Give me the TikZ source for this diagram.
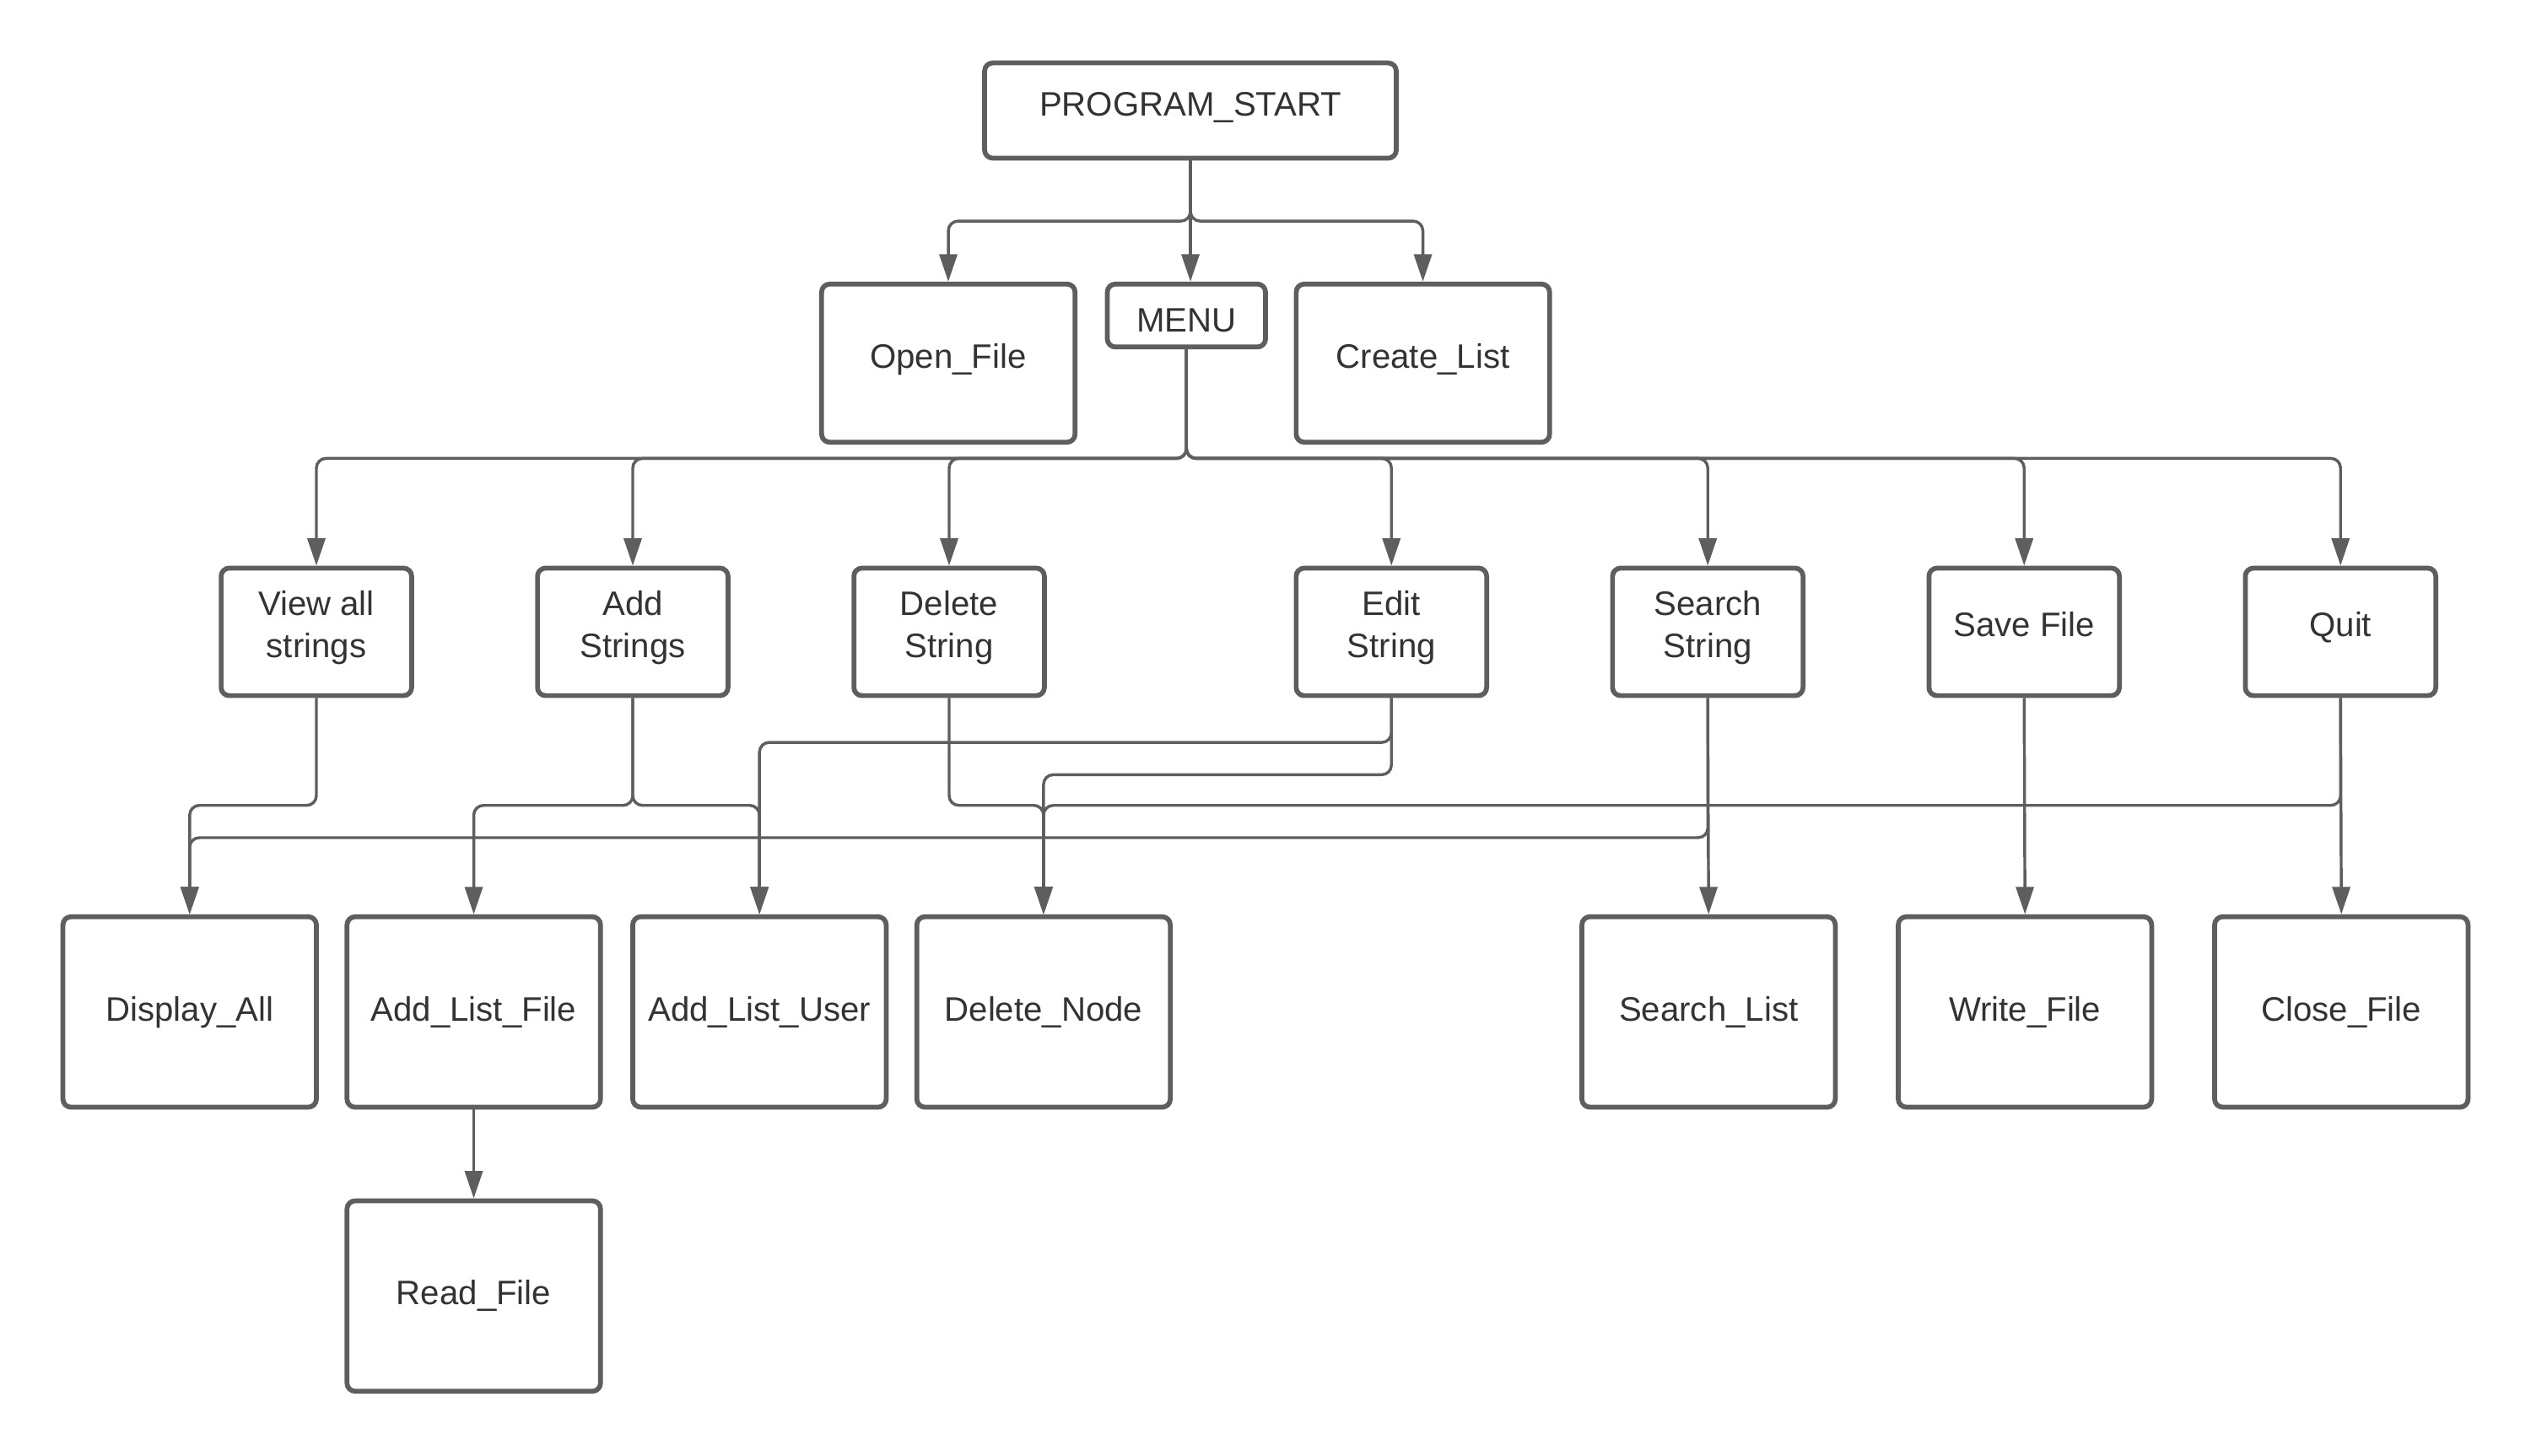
\documentclass[tikz,border=0pt]{standalone}
\usepackage{fontspec}
\setmainfont{Liberation Sans}
\usepackage{tikz}
\usetikzlibrary{arrows.meta, calc, positioning}
\definecolor{lcline}{HTML}{5E5E5E}
\definecolor{lctext}{HTML}{333333}
\tikzset{
  flowbox/.style   = {rectangle, draw=lcline, line width=3pt, rounded corners=5pt,
                      fill=white, text=lctext, align=center, inner sep=2pt,
                      font=\fontsize{21}{26}\selectfont},
  smallbox/.style  = {flowbox, minimum width=118pt, minimum height=79pt,
                      text depth=9.5pt},
  bigbox/.style    = {flowbox, minimum width=157pt, minimum height=118pt},
  flowlink/.style  = {draw=lcline, line width=1.8pt, rounded corners=6pt,
                      -{Triangle[length=17pt, width=11pt]}},
}

\begin{document}
\begin{tikzpicture}[x=1pt, y=-1pt]
  \useasboundingbox (0,0) rectangle (1568,902);
  % top
  \node[flowbox, minimum width=255pt, minimum height=59pt, text depth=8pt] (start) at (737.5,68.5) {PROGRAM\_START};
  \node[flowbox, minimum width=157pt, minimum height=98pt, text depth=8.5pt] (openf) at (587.5,225) {Open\_File};
  \node[flowbox, minimum width=98pt, minimum height=39pt, text height=21pt] (menu) at (735,195.5) {MENU};
  \node[flowbox, minimum width=157pt, minimum height=98pt, text depth=8.5pt] (create) at (881.5,225) {Create\_List};
  % menu options
  \node[smallbox] (view) at (196,391.5) {View all\\strings};
  \node[smallbox] (adds) at (392,391.5) {Add\\Strings};
  \node[smallbox] (dels) at (588,391.5) {Delete\\String};
  \node[smallbox] (edit) at (862,391.5) {Edit\\String};
  \node[smallbox] (srch) at (1058,391.5) {Search\\String};
  \node[smallbox] (save) at (1254,391.5) {Save File};
  \node[smallbox] (quit) at (1450,391.5) {Quit};
  % functions
  \node[bigbox] (disp) at (117.5,627) {Display\_All};
  \node[bigbox] (alf) at (293.5,627) {Add\_List\_File};
  \node[bigbox] (alu) at (470.5,627) {\raisebox{2pt}{Add\_List\_User}};
  \node[bigbox] (deln) at (646.5,627) {Delete\_Node};
  \node[bigbox] (slist) at (1058.5,627) {Search\_List};
  \node[bigbox] (wfile) at (1254.5,627) {Write\_File};
  \node[bigbox] (cfile) at (1450.5,627) {Close\_File};
  \node[bigbox] (rfile) at (293.5,803) {Read\_File};

  \foreach \n in {openf, create}
    \draw[flowlink] (start.south) -- (start.south |- 0,137) -| (\n.north);
  \draw[flowlink] (start.south) -- (start.south |- menu.north);
  \foreach \n in {view, adds, dels, edit, srch, save, quit}
    \draw[flowlink] (menu.south) -- (menu.south |- 0,284) -| (\n.north);

  \draw[flowlink] (view.south) -- (view.south |- 0,499) -| (disp.north);
  \draw[flowlink] (srch.south) -- (srch.south |- 0,519) -| (disp.north);
  \draw[flowlink] (srch.south) -- (slist.north);
  \draw[flowlink] (adds.south) -- (adds.south |- 0,499) -| (alf.north);
  \draw[flowlink] (adds.south) -- (adds.south |- 0,499) -| (alu.north);
  \draw[flowlink] (edit.south) -- (edit.south |- 0,460) -| (alu.north);
  \draw[flowlink] (edit.south) -- (edit.south |- 0,480) -| (deln.north);
  \draw[flowlink] (dels.south) -- (dels.south |- 0,499) -| (deln.north);
  \draw[flowlink] (quit.south) -- (quit.south |- 0,499) -| (deln.north);
  \draw[flowlink] (quit.south) -- (cfile.north);
  \draw[flowlink] (save.south) -- (wfile.north);
  \draw[flowlink] (alf.south) -- (rfile.north);
\end{tikzpicture}
\end{document}
